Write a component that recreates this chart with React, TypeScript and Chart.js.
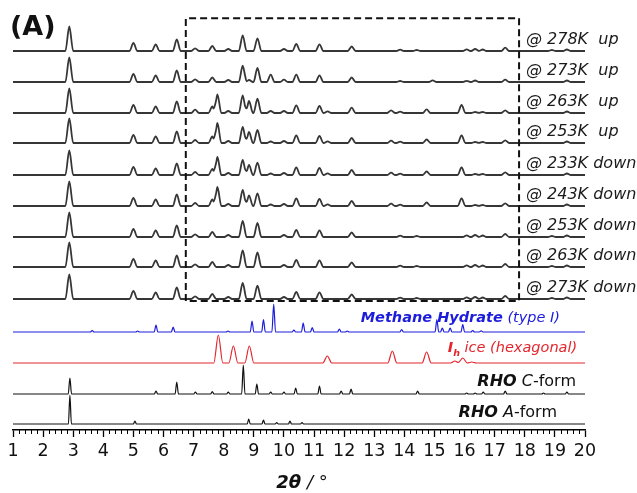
import React, { useEffect, useRef } from "react";
import { Chart, registerables } from "chart.js";
Chart.register(...registerables);

type Peak = [number, number];

// ---- axis ----
const X_MIN = 1;
const X_MAX = 20;
const X_MAJOR_STEP = 1;
const X_MINOR_STEP = 0.2;
const Y_MAX = 420;

// ---- series names (top to bottom) ----
const seriesNames = [
  "@ 278K  up",
  "@ 273K  up",
  "@ 263K  up",
  "@ 253K  up",
  "@ 233K down",
  "@ 243K down",
  "@ 253K down",
  "@ 263K down",
  "@ 273K down",
  "Methane Hydrate (type I)",
  "Ih ice (hexagonal)",
  "RHO C-form",
  "RHO A-form",
];

// vertical offsets of each pattern (stacking)
const seriesOffsets = [379, 348, 317, 287, 255, 224, 193, 163, 131, 98, 67, 36, 6];

// ---- peak tables [2θ, intensity] ----
const peaks278Kup: Peak[] = [[2.87, 24.5], [5.0, 8], [5.74, 6.5], [6.44, 11.5], [7.05, 2.7], [7.62, 5], [8.15, 2], [8.63, 15.5], [9.12, 12.7], [10.0, 2], [10.41, 7], [11.18, 6.7], [12.25, 4.5], [13.86, 1.3], [14.41, 1], [16.07, 1.7], [16.35, 2], [16.6, 1.5], [17.35, 3.3], [18.9, 1], [19.4, 1.5]];
const peaks273Kup: Peak[] = [[2.87, 24.5], [5.0, 8], [5.74, 6.5], [6.44, 11.5], [7.05, 2.7], [7.62, 4.5], [8.15, 2], [8.63, 16.3], [8.84, 2], [9.12, 14], [9.56, 7.3], [10.0, 2.3], [10.41, 7.3], [11.18, 6.7], [12.25, 4.5], [13.86, 1], [14.94, 1.7], [16.07, 1.2], [16.35, 1.5], [17.35, 2.3], [19.4, 1.5]];
const peaks263Kup: Peak[] = [[2.87, 24.5], [5.0, 8], [5.74, 6.5], [6.44, 11.5], [7.05, 3.3], [7.62, 6.5], [7.79, 18.7], [8.15, 2], [8.63, 17.7], [8.84, 12], [9.12, 14.3], [9.56, 2], [10.0, 2], [10.41, 7.7], [11.18, 7], [11.45, 1.7], [12.25, 5.3], [13.56, 2.7], [13.86, 1.3], [14.74, 3.7], [15.9, 8], [16.35, 1], [16.6, 1], [17.35, 2.7], [19.4, 1.5]];
const peaks253Kup: Peak[] = [[2.87, 24.5], [5.0, 8], [5.74, 6.5], [6.44, 11.5], [7.05, 3], [7.62, 6.5], [7.79, 20], [8.15, 2], [8.63, 16], [8.84, 11], [9.12, 13], [9.56, 1.5], [10.0, 2], [10.41, 7.5], [11.18, 7], [11.45, 1.7], [12.25, 5], [13.56, 2.3], [13.86, 1.3], [14.74, 3.5], [15.9, 7.5], [16.35, 1], [16.6, 1], [17.35, 2.7], [19.4, 1.5]];
const peaks233Kdown: Peak[] = [[2.87, 24.5], [5.0, 8], [5.74, 6.5], [6.44, 11.5], [7.05, 3], [7.62, 6], [7.79, 18], [8.15, 2], [8.63, 15], [8.84, 10], [9.12, 12.3], [9.56, 1.5], [10.0, 2], [10.41, 7.5], [11.18, 7], [11.45, 1.7], [12.25, 5], [13.56, 2.3], [13.86, 1.3], [14.74, 3.5], [15.9, 7.5], [16.35, 1], [16.6, 1], [17.35, 2.7], [19.4, 1.5]];
const peaks243Kdown: Peak[] = [[2.87, 24.5], [5.0, 8], [5.74, 6.5], [6.44, 11.5], [7.05, 3], [7.62, 6.5], [7.79, 19], [8.15, 2], [8.63, 16], [8.84, 10.7], [9.12, 12.7], [9.56, 1.5], [10.0, 2], [10.41, 7.5], [11.18, 7], [11.45, 1.7], [12.25, 5], [13.56, 2.3], [13.86, 1.3], [14.74, 3.5], [15.9, 7.5], [16.35, 1], [16.6, 1], [17.35, 2.7], [19.4, 1.5]];
const peaks253Kdown: Peak[] = [[2.87, 24.5], [5.0, 8], [5.74, 6.5], [6.44, 11.5], [7.05, 2.7], [7.62, 5], [8.15, 2], [8.63, 16], [9.12, 14], [10.0, 2], [10.41, 7], [11.18, 6.7], [12.25, 4.5], [13.86, 1.3], [14.41, 1], [16.07, 1.7], [16.35, 2], [16.6, 1.5], [17.35, 3], [18.9, 1], [19.4, 1.5]];
const peaks263Kdown: Peak[] = [[2.87, 24.5], [5.0, 8], [5.74, 6.5], [6.44, 11.5], [7.05, 2.7], [7.62, 5], [8.15, 2], [8.63, 16.5], [9.12, 14.5], [10.0, 2], [10.41, 7], [11.18, 6.7], [12.25, 4.5], [13.86, 1.3], [14.41, 1], [16.07, 1.7], [16.35, 2], [16.6, 1.5], [17.35, 3], [18.9, 1], [19.4, 1.5]];
const peaks273Kdown: Peak[] = [[2.87, 24.5], [5.0, 8], [5.74, 6.5], [6.44, 11.5], [7.05, 2.7], [7.62, 5], [8.15, 2], [8.63, 16], [9.12, 13.3], [10.0, 2], [10.41, 7], [11.18, 6.7], [12.25, 4.5], [13.86, 1.3], [14.41, 1], [16.07, 1.7], [16.35, 2], [16.6, 1.5], [17.35, 3], [18.9, 1], [19.4, 1.5]];
const peaksMethaneHydrate: Peak[] = [[3.63, 1.5], [5.14, 1], [5.75, 7], [6.32, 5], [8.14, 1], [8.94, 11], [9.32, 12.5], [9.66, 28], [10.33, 2], [10.64, 9], [10.94, 4.5], [11.84, 3], [12.1, 1], [13.91, 2.5], [15.08, 12.5], [15.26, 4], [15.52, 4], [15.94, 7.5], [16.27, 1.5], [16.55, 1.2]];
const peaksIceIh: Peak[] = [[7.82, 28], [8.32, 17], [8.85, 17], [11.44, 7], [13.6, 12], [14.74, 11], [15.68, 2], [15.94, 5], [16.24, 1]];
const peaksRhoC: Peak[] = [[2.89, 16], [5.75, 3], [6.44, 12], [7.06, 2], [7.62, 2.5], [8.15, 2], [8.65, 29], [9.1, 10], [9.56, 2], [10.0, 2], [10.39, 6], [11.18, 8], [11.9, 3], [12.23, 5], [14.44, 3], [16.07, 1], [16.35, 1], [16.62, 2], [17.35, 3], [18.62, 1], [19.4, 2]];
const peaksRhoA: Peak[] = [[2.89, 29], [5.05, 3], [8.83, 5], [9.32, 4], [9.76, 1.5], [10.2, 3], [10.6, 1.5]];

const seriesPeaks: Peak[][] = [
  peaks278Kup, peaks273Kup, peaks263Kup, peaks253Kup, peaks233Kdown, peaks243Kdown,
  peaks253Kdown, peaks263Kdown, peaks273Kdown, peaksMethaneHydrate, peaksIceIh, peaksRhoC, peaksRhoA,
];

// dashed box bounds [2θ start, 2θ end], [y bottom, y top]
const boxX = [6.74, 17.81];
const boxY = [129, 411.7];

// ---- styles ----
const EXP_COLOR = "#363636";
const BLUE = "#1c1cdc";
const RED = "#e3262d";
const BLACK = "#111111";
const seriesColors = [EXP_COLOR, EXP_COLOR, EXP_COLOR, EXP_COLOR, EXP_COLOR, EXP_COLOR, EXP_COLOR, EXP_COLOR, EXP_COLOR, BLUE, RED, BLACK, BLACK];
const seriesWidths = [1.8, 1.8, 1.8, 1.8, 1.8, 1.8, 1.8, 1.8, 1.8, 1.2, 1.2, 1.2, 1.2];
const seriesHalfWidths = [0.13, 0.13, 0.13, 0.13, 0.13, 0.13, 0.13, 0.13, 0.13, 0.06, 0.15, 0.055, 0.05];

const FAM = "'DejaVu Sans', sans-serif";
const f = (style: string, size: number) => `${style} ${size}px ${FAM}`;

type Part = { text: string; font: string; color: string; dy?: number };
type LabelSpec = { at: number; align: "left" | "right"; dy: number; parts: Part[] };

const labelSpecs: LabelSpec[] = [
  ...seriesNames.slice(0, 9).map((name) => ({
    at: 18.04, align: "left" as const, dy: 7,
    parts: [{ text: name, font: f("italic", 16), color: "#1a1a1a" }],
  })),
  {
    at: 19.17, align: "right", dy: 10,
    parts: [
      { text: "Methane Hydrate", font: f("italic bold", 14.5), color: BLUE },
      { text: " (type I)", font: f("italic", 14.5), color: BLUE },
    ],
  },
  {
    at: 19.74, align: "right", dy: 11,
    parts: [
      { text: "I", font: f("italic bold", 14.5), color: RED },
      { text: "h", font: f("italic bold", 9.5), color: RED, dy: 4 },
      { text: " ice (hexagonal)", font: f("italic", 14.5), color: RED },
    ],
  },
  {
    at: 19.7, align: "right", dy: 8,
    parts: [
      { text: "RHO", font: f("italic bold", 16), color: BLACK },
      { text: " C", font: f("italic", 16), color: BLACK },
      { text: "-form", font: f("normal", 16), color: BLACK },
    ],
  },
  {
    at: 19.07, align: "right", dy: 7.5,
    parts: [
      { text: "RHO", font: f("italic bold", 16), color: BLACK },
      { text: " A", font: f("italic", 16), color: BLACK },
      { text: "-form", font: f("normal", 16), color: BLACK },
    ],
  },
];

function profile(peaks: Peak[], offset: number, hw: number) {
  const xs = new Set<number>([X_MIN, X_MAX]);
  for (const [p] of peaks) {
    xs.add(+(p - hw).toFixed(4));
    xs.add(p);
    xs.add(+(p + hw).toFixed(4));
  }
  const sorted = [...xs].filter((x) => x >= X_MIN && x <= X_MAX).sort((a, b) => a - b);
  return sorted.map((x) => {
    let v = 0;
    for (const [p, h] of peaks) {
      const d = Math.abs(x - p);
      if (d < hw) v = Math.max(v, h * (1 - d / hw));
    }
    return { x, y: offset + v };
  });
}

function drawParts(ctx: CanvasRenderingContext2D, parts: Part[], x: number, y: number, align: "left" | "right") {
  const widths = parts.map((p) => {
    ctx.font = p.font;
    return ctx.measureText(p.text).width;
  });
  const total = widths.reduce((a, b) => a + b, 0);
  let cx = align === "left" ? x : x - total;
  ctx.textAlign = "left";
  ctx.textBaseline = "alphabetic";
  parts.forEach((p, i) => {
    ctx.font = p.font;
    ctx.fillStyle = p.color;
    ctx.fillText(p.text, cx, y + (p.dy || 0));
    cx += widths[i];
  });
}

const overlayPlugin = {
  id: "overlay",
  afterDraw(chart: any) {
    const { ctx, chartArea } = chart;
    const xs = chart.scales.x;
    const ys = chart.scales.y;
    ctx.save();
    // minor ticks
    ctx.strokeStyle = "#000";
    ctx.lineWidth = 1;
    ctx.beginPath();
    const n = Math.round((X_MAX - X_MIN) / X_MINOR_STEP);
    for (let i = 0; i <= n; i++) {
      if (i % Math.round(X_MAJOR_STEP / X_MINOR_STEP) === 0) continue;
      const v = X_MIN + i * X_MINOR_STEP;
      const px = Math.round(xs.getPixelForValue(v)) + 0.5;
      ctx.moveTo(px, chartArea.bottom);
      ctx.lineTo(px, chartArea.bottom + 4);
    }
    ctx.stroke();
    // series labels
    labelSpecs.forEach((spec, i) => {
      const px = xs.getPixelForValue(spec.at);
      const py = ys.getPixelForValue(seriesOffsets[i]) - spec.dy;
      drawParts(ctx, spec.parts, px, py, spec.align);
    });
    // axis title
    const title: Part[] = [
      { text: "2θ", font: f("italic bold", 18), color: "#111" },
      { text: " / °", font: f("italic", 18), color: "#111" },
    ];
    ctx.font = title[0].font;
    const w0 = ctx.measureText(title[0].text).width;
    ctx.font = title[1].font;
    const w1 = ctx.measureText(title[1].text).width;
    const cx = (chartArea.left + chartArea.right) / 2;
    drawParts(ctx, title, cx - (w0 + w1) / 2 + 3, 488, "left");
    // panel letter
    drawParts(ctx, [{ text: "(A)", font: f("bold", 27), color: "#111" }], 10, 35, "left");
    ctx.restore();
  },
};

export default function App() {
  const ref = useRef<HTMLCanvasElement | null>(null);
  useEffect(() => {
    if (!ref.current) return;
    const datasets: any[] = [
      {
        label: "box",
        data: [
          { x: boxX[0], y: boxY[0] },
          { x: boxX[0], y: boxY[1] },
          { x: boxX[1], y: boxY[1] },
          { x: boxX[1], y: boxY[0] },
          { x: boxX[0], y: boxY[0] },
        ],
        borderColor: "#111",
        borderWidth: 2,
        borderDash: [7, 4],
        pointRadius: 0,
        tension: 0,
        fill: false,
      },
      ...seriesNames.map((name, i) => ({
        label: name,
        data: profile(seriesPeaks[i], seriesOffsets[i], seriesHalfWidths[i]),
        borderColor: seriesColors[i],
        borderWidth: seriesWidths[i],
        pointRadius: 0,
        cubicInterpolationMode: "monotone",
        fill: false,
      })),
    ];
    const chart = new Chart(ref.current, {
      type: "line",
      data: { datasets },
      options: {
        responsive: false,
        animation: false,
        layout: { padding: { left: 13, right: 52, top: 10, bottom: 0 } },
        plugins: { legend: { display: false }, tooltip: { enabled: false } },
        scales: {
          x: {
            type: "linear",
            min: X_MIN,
            max: X_MAX,
            ticks: {
              stepSize: X_MAJOR_STEP,
              padding: 4,
              color: "#111",
              font: { size: 17.5, family: FAM },
              maxRotation: 0,
              autoSkip: false,
            },
            grid: { drawOnChartArea: false, drawTicks: true, tickLength: 7, color: "#000", tickWidth: 1.3 },
            border: { display: true, color: "#000", width: 1.5 },
            afterFit: (s: any) => {
              s.height = 63;
            },
          },
          y: { display: false, min: 0, max: Y_MAX },
        },
      },
      plugins: [overlayPlugin],
    } as any);
    return () => chart.destroy();
  }, []);
  return (
    <div style={{ position: "fixed", left: 0, top: 0, width: 637, height: 493, background: "#fff" }}>
      <canvas ref={ref} width={637} height={493} style={{ display: "block" }} />
    </div>
  );
}
